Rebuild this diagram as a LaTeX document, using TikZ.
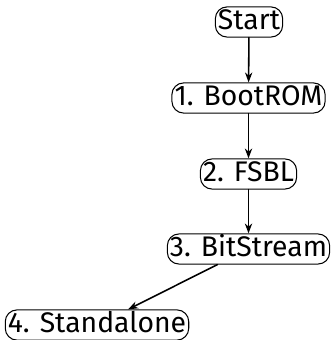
\documentclass[tikz,border=0pt]{standalone}
\usepackage{fontspec}
\setmainfont{Fira Sans}
\usetikzlibrary{arrows.meta}
\tikzset{
  stage/.style={draw,rounded corners=4.5pt,inner xsep=1pt,inner ysep=0.6pt,
    text height=8pt,text depth=2.4pt}
}
\begin{document}
\begin{tikzpicture}[line join = round, line cap = round,>={Stealth[length=3.8pt,width=2.8pt,inset=1.2pt]},font=\fontsize{10.9}{13}\selectfont,x=0.3846pt,y=-0.3846pt]
				\useasboundingbox (0,0) rectangle (331,340);
				\node[stage] (start) at (249,22) {Start};
				\node[stage] (boot) at (248.5,98) {1. BootROM};
				\node[stage] (fsbl) at (248.5,174) {2. FSBL};
				\node[stage] (bit) at (248.5,249) {3. BitStream};
				\node[stage] (sa) at (97,325) {4. Standalone};
				
				\foreach \a/\b in {start/boot,boot/fsbl,fsbl/bit,bit/sa} \draw[->,line width=0.6pt] (\a) -- (\b);
			\end{tikzpicture}
\end{document}
